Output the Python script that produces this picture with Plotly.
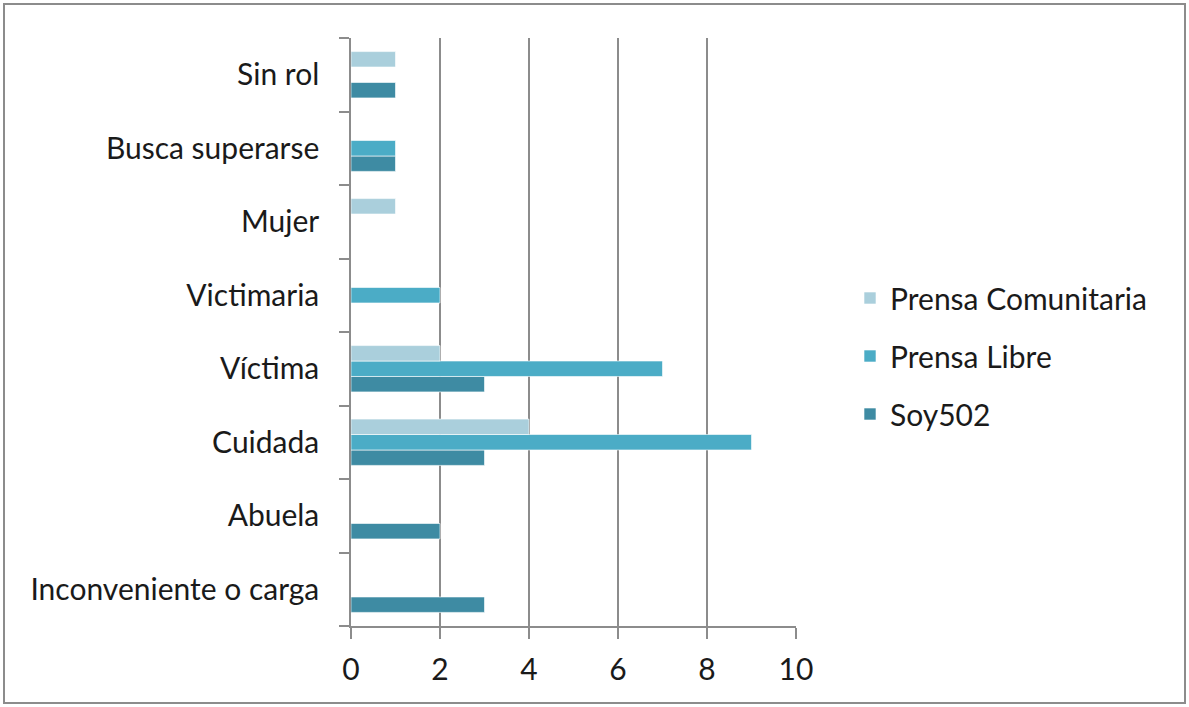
import plotly.graph_objects as go

categories = ["Inconveniente o carga", "Abuela", "Cuidada", "Víctima",
              "Victimaria", "Mujer", "Busca superarse", "Sin rol"]
prensa_comunitaria = [0, 0, 4, 2, 0, 1, 0, 1]
prensa_libre = [0, 0, 9, 7, 2, 0, 1, 0]
soy502 = [3, 2, 3, 3, 0, 0, 1, 1]
x_ticks = [0, 2, 4, 6, 8, 10]

series = [
    ("Soy502", soy502, "#3E8BA3", 3),
    ("Prensa Libre", prensa_libre, "#4BACC6", 2),
    ("Prensa Comunitaria", prensa_comunitaria, "#AACFDC", 1),
]

fig = go.Figure()
for name, vals, color, rank in series:
    fig.add_trace(go.Bar(
        y=categories, x=[v if v else None for v in vals], name=name, orientation="h",
        marker=dict(color=color, line=dict(color="rgba(255,255,255,0.6)", width=1)),
        legendgroup=name, legendrank=rank,
    ))

W, H = 1189, 707
L, R, T, B = 351, 393, 38, 81
pw, ph = W - L - R, H - T - B

def px_x(p):
    return (p - L) / pw

def px_y(p):
    return (H - B - p) / ph

font = "Lato, 'Open Sans', sans-serif"
fig.update_layout(
    width=W, height=H,
    margin=dict(l=L, r=R, t=T, b=B),
    paper_bgcolor="white", plot_bgcolor="white",
    barmode="group", bargap=0.37, bargroupgap=0,
    font=dict(family=font, size=30, color="#1a1a1a"),
    showlegend=True,
    legend=dict(x=px_x(850), y=px_y(272), xanchor="left", yanchor="top",
                traceorder="grouped", tracegroupgap=16,
                font=dict(size=30), itemwidth=30, bgcolor="rgba(0,0,0,0)"),
    xaxis=dict(range=[0, 10], tickvals=x_ticks, showgrid=True, gridcolor="#8c8c8c",
               gridwidth=1.5, showline=True, linecolor="#8c8c8c", linewidth=1.5,
               ticks="outside", ticklen=11, tickcolor="#8c8c8c", tickwidth=1.5,
               zeroline=False, ticklabelstandoff=5),
    yaxis=dict(categoryorder="array", categoryarray=categories, showgrid=False,
               showline=True, linecolor="#8c8c8c", linewidth=1.5,
               ticks="outside", ticklen=10, tickcolor="#8c8c8c", tickwidth=1.5,
               tickson="boundaries", ticklabelstandoff=24),
    shapes=[dict(type="rect", xref="paper", yref="paper",
                 x0=px_x(4), x1=px_x(1185), y0=px_y(4), y1=px_y(703),
                 line=dict(color="#8c8c8c", width=2), fillcolor="rgba(0,0,0,0)",
                 layer="below")],
)

fig.write_html("out.html", config={"displayModeBar": False},
               post_script="document.body.style.margin='0';")
